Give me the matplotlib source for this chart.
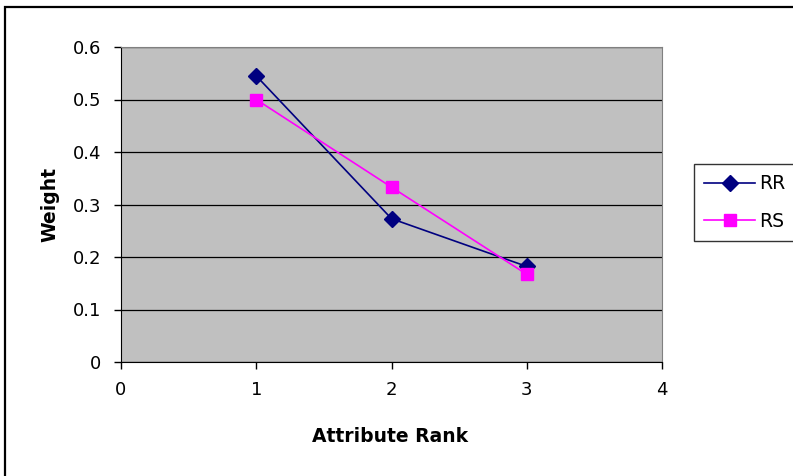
import matplotlib.pyplot as plt
from matplotlib.patches import Rectangle

plt.rcParams['font.family'] = ['DejaVu Sans']

# Data
ranks = [1, 2, 3]
rr = [0.545, 0.273, 0.182]
rs = [0.5, 0.333, 0.167]
x_ticks = [0, 1, 2, 3, 4]
y_ticks = [0, 0.1, 0.2, 0.3, 0.4, 0.5, 0.6]
y_tick_labels = ['0', '0.1', '0.2', '0.3', '0.4', '0.5', '0.6']

W, H = 793, 476
fig = plt.figure(figsize=(W / 100, H / 100), dpi=100)
fig.patch.set_facecolor('white')

# outer chart border (runs past right and bottom edge)
fig.patches.append(Rectangle((5 / W, -0.1), 1.2, 1 - 7 / H + 0.1,
                             transform=fig.transFigure, fill=False,
                             edgecolor='black', linewidth=1.6))

ax = fig.add_axes([121 / W, 114 / H, 541 / W, 315 / H])
ax.set_facecolor('#C0C0C0')

ax.plot(ranks, rr, color='#000080', marker='D', markersize=8, linewidth=1.2, label='RR')
ax.plot(ranks, rs, color='#FF00FF', marker='s', markersize=8.5, linewidth=1.2, label='RS')

ax.set_xlim(0, 4)
ax.set_ylim(0, 0.6)
ax.set_xticks(x_ticks)
ax.set_yticks(y_ticks)
ax.set_yticklabels(y_tick_labels)
ax.yaxis.grid(True, color='black', linewidth=0.9)
ax.set_axisbelow(True)

ax.tick_params(direction='out', length=5, width=1, labelsize=13, pad=9)
for side in ['top', 'right']:
    ax.spines[side].set_color('#808080')
for side in ['left', 'bottom']:
    ax.spines[side].set_color('black')

ax.set_xlabel('Attribute Rank', fontsize=13.5, fontweight='bold')
ax.set_ylabel('Weight', fontsize=13.5, fontweight='bold')
ax.xaxis.set_label_coords(0.497, (362 - 436) / 315)
ax.xaxis.label.set_verticalalignment('center')
ax.yaxis.set_label_coords((50 - 121) / 541, 0.5)
ax.yaxis.label.set_verticalalignment('center')

leg = fig.legend(loc='upper left', bbox_to_anchor=(694 / W, 1 - 164 / H),
                 fontsize=13.5, frameon=True, fancybox=False, edgecolor='black',
                 handlelength=2.7, borderpad=0.55, labelspacing=0.98,
                 handletextpad=0.2, borderaxespad=0)
leg.get_frame().set_linewidth(1.0)

fig.savefig('out.png', dpi=100)
